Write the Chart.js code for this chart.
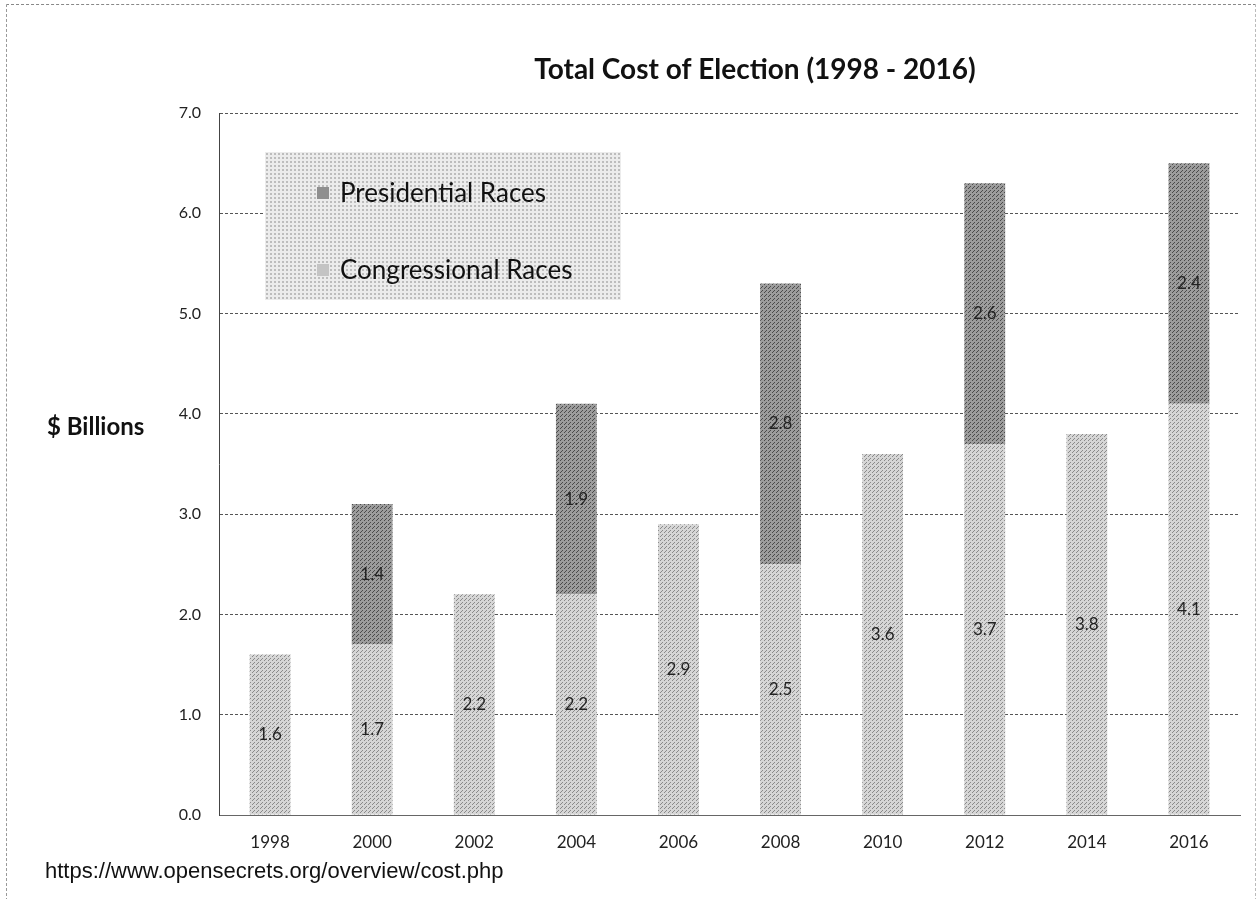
<!DOCTYPE html>
<html>
<head>
<meta charset="utf-8">
<script src="https://cdn.jsdelivr.net/npm/chart.js@4.4.0/dist/chart.umd.min.js"></script>
<style>
  body { margin: 0; background: #fff; }
  #wrap { position: relative; width: 1260px; height: 899px; overflow: hidden; }
  #frame { position: absolute; left: 6px; top: 4px; right: 4px; bottom: -2px; border-top: 1px dashed #888; border-left: 1px dashed #999; border-right: 1px dashed #bbb; }
  #yTitle { position: absolute; left: 47px; top: 411px; font: bold 24px Lato, sans-serif; color: #111; }
  #source { position: absolute; left: 45px; top: 858px; font: 22px "Liberation Sans", Arial, sans-serif; color: #111; }
  #legendBox { position: absolute; left: 265px; top: 152px; width: 356px; height: 148px;
    background-color: #ececec;
    background-image: radial-gradient(#bdbdbd 0.8px, transparent 1.2px);
    background-size: 4px 4px; }
  .item { position: absolute; left: 52px; font: 26px Lato, sans-serif; color: #111; }
  .item span.sw { display: inline-block; width: 12px; height: 12px; margin-right: 11px; vertical-align: 3px; }
</style>
</head>
<body>
<div id="wrap">
  <div id="frame"></div>
  <canvas id="chart" width="1260" height="899"></canvas>
  <div id="yTitle">$ Billions</div>
  <div id="source">https://www.opensecrets.org/overview/cost.php</div>
  <div id="legendBox">
    <div class="item" style="top:24px"><span class="sw" style="background:#8f8f8f"></span>Presidential Races</div>
    <div class="item" style="top:101px"><span class="sw" style="background:#c4c4c4"></span>Congressional Races</div>
  </div>
</div>
<script>
// Cycle years
const years = ['1998', '2000', '2002', '2004', '2006', '2008', '2010', '2012', '2014', '2016'];
// $ billions
const congressional = [1.6, 1.7, 2.2, 2.2, 2.9, 2.5, 3.6, 3.7, 3.8, 4.1];
const presidential = [null, 1.4, null, 1.9, null, 2.8, null, 2.6, null, 2.4];
const yTicks = [0, 1, 2, 3, 4, 5, 6, 7];

// stippled fill like the scanned print
function stipple(base, dot) {
    const c = document.createElement('canvas');
    c.width = 4; c.height = 4;
    const g = c.getContext('2d');
    g.fillStyle = base;
    g.fillRect(0, 0, 4, 4);
    g.fillStyle = dot;
    g.fillRect(0, 0, 1, 1);
    g.fillRect(2, 2, 1, 1);
    g.fillRect(1, 3, 1, 1);
    return g.createPattern(c, 'repeat');
}

// writes the value in the middle of each segment
const segmentLabels = {
    id: 'segmentLabels',
    afterDatasetsDraw(chart) {
        const ctx = chart.ctx;
        ctx.save();
        ctx.font = '17px Lato, sans-serif';
        ctx.fillStyle = '#222';
        ctx.textAlign = 'center';
        ctx.textBaseline = 'middle';
        chart.data.datasets.forEach((ds, i) => {
            chart.getDatasetMeta(i).data.forEach((bar, j) => {
                if (ds.data[j] == null) return;
                const mid = (bar.y + bar.base) / 2;
                ctx.fillText(ds.data[j].toFixed(1), bar.x, mid);
            });
        });
        ctx.restore();
    }
};

const titleText = {
    id: 'titleText',
    afterDraw(chart) {
        const ctx = chart.ctx;
        ctx.save();
        ctx.font = 'bold 28px Lato, sans-serif';
        ctx.fillStyle = '#111';
        ctx.textAlign = 'center';
        ctx.textBaseline = 'middle';
        ctx.fillText('Total Cost of Election (1998 - 2016)', 755, 70);
        ctx.restore();
    }
};

new Chart(document.getElementById('chart').getContext('2d'), {
    type: 'bar',
    data: {
        labels: years,
        datasets: [
            {
                label: 'Congressional Races',
                data: congressional,
                backgroundColor: stipple('#d6d6d6', '#8a8a8a'),
                barPercentage: 0.4,
                categoryPercentage: 1.0
            },
            {
                label: 'Presidential Races',
                data: presidential,
                backgroundColor: stipple('#9c9c9c', '#4a4a4a'),
                barPercentage: 0.4,
                categoryPercentage: 1.0
            }
        ]
    },
    options: {
        responsive: false,
        animation: false,
        layout: { padding: { left: 0, top: 113, right: 20, bottom: 44 } },
        plugins: {
            legend: { display: false },
            title: { display: false },
            tooltip: { enabled: false }
        },
        scales: {
            x: {
                stacked: true,
                grid: { display: false },
                border: { color: '#666' },
                ticks: { color: '#222', font: { family: 'Lato', size: 17 }, padding: 9 },
                afterFit(s) { s.height = 40; }
            },
            y: {
                stacked: true,
                min: 0,
                max: 7,
                afterBuildTicks(s) { s.ticks = yTicks.map(v => ({ value: v })); },
                grid: { color: '#555', lineWidth: 1, drawTicks: false },
                border: { color: '#444', dash: [3, 2] },
                ticks: {
                    color: '#222',
                    font: { family: 'Lato', size: 16 },
                    padding: 18,
                    callback: v => v.toFixed(1)
                },
                afterFit(s) { s.width = 219; }
            }
        }
    },
    plugins: [segmentLabels, titleText]
});
</script>
</body>
</html>
